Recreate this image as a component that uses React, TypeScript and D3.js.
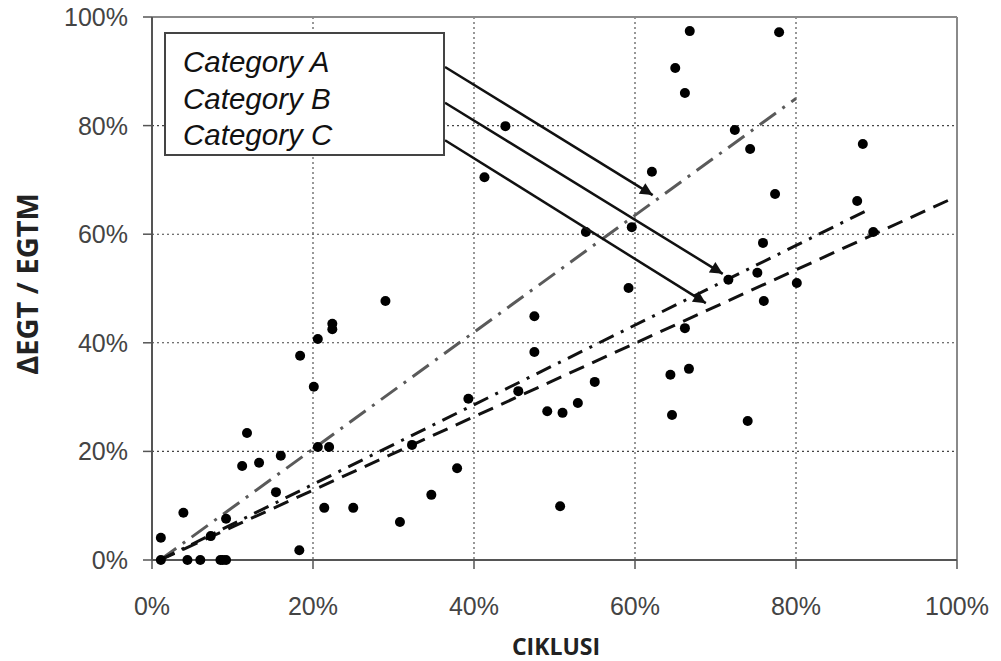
import React from "react";
import * as d3 from "d3";

// ---- data ----
const xTicks = [0, 0.2, 0.4, 0.6, 0.8, 1.0];
const yTicks = [0, 0.2, 0.4, 0.6, 0.8, 1.0];

const pointsX = [
  0.011, 0.011, 0.039, 0.044, 0.06, 0.073, 0.085, 0.088, 0.092, 0.092,
  0.118, 0.112, 0.133, 0.16, 0.154, 0.183, 0.184, 0.201, 0.206, 0.206,
  0.22, 0.214, 0.224, 0.224, 0.25, 0.29, 0.308, 0.323, 0.347, 0.379,
  0.393, 0.413, 0.439, 0.455, 0.475, 0.475, 0.491, 0.51, 0.507, 0.529,
  0.55, 0.539, 0.592, 0.596, 0.621, 0.644, 0.646, 0.65, 0.662, 0.662,
  0.667, 0.668, 0.716, 0.724, 0.74, 0.743, 0.752, 0.759, 0.76, 0.774,
  0.779, 0.801, 0.876, 0.883, 0.896,
];
const pointsY = [
  0.041, 0.0, 0.087, 0.0, 0.0, 0.044, 0.0, 0.0, 0.0, 0.076,
  0.234, 0.173, 0.179, 0.192, 0.125, 0.018, 0.376, 0.319, 0.407, 0.208,
  0.208, 0.096, 0.435, 0.425, 0.096, 0.477, 0.07, 0.212, 0.12, 0.169,
  0.297, 0.705, 0.799, 0.311, 0.449, 0.383, 0.274, 0.271, 0.099, 0.289,
  0.328, 0.604, 0.501, 0.613, 0.715, 0.341, 0.267, 0.906, 0.86, 0.427,
  0.352, 0.974, 0.516, 0.792, 0.256, 0.757, 0.529, 0.584, 0.477, 0.674,
  0.972, 0.51, 0.661, 0.766, 0.604,
];

const categories = ["Category A", "Category B", "Category C"];
// trend lines: start & end (x, y)
const lineStartX = [0.01, 0.01, 0.01];
const lineStartY = [0.0, 0.0, 0.0];
const lineEndX = [0.8, 0.887, 0.996];
const lineEndY = [0.85, 0.643, 0.667];
// arrows from legend to lines (data coords)
const arrowFromX = [0.364, 0.364, 0.364];
const arrowFromY = [0.908, 0.842, 0.773];
const arrowToX = [0.622, 0.709, 0.688];
const arrowToY = [0.672, 0.527, 0.473];

const lineColors = ["#5a5a5a", "#111", "#111"];
const lineDash = ["20 8 3 8", "16 8 3 8", "16 9"];

// ---- layout ----
const W = 1001;
const H = 661;
const L = 152, R = 957, T = 17, B = 560;

export default function App() {
  const x = d3.scaleLinear().domain([0, 1]).range([L, R]);
  const y = d3.scaleLinear().domain([0, 1]).range([B, T]);
  const fmt = d3.format(".0%");
  const line = d3.line<[number, number]>().x((d) => x(d[0])).y((d) => y(d[1]));

  return (
    <svg
      width={W}
      height={H}
      style={{ position: "absolute", left: 0, top: 0, background: "#fff" }}
      fontFamily="'Liberation Sans', Arial, sans-serif"
    >
      <defs>
        <marker id="arr" viewBox="0 0 10 10" refX="10" refY="5" markerWidth="6" markerHeight="5" orient="auto" markerUnits="strokeWidth">
          <path d="M0,0 L10,5 L0,10 z" fill="#111" />
        </marker>
      </defs>
      {/* grid */}
      {xTicks.slice(1, -1).map((t) => (
        <line key={"gx" + t} x1={x(t)} x2={x(t)} y1={T} y2={B} stroke="#444" strokeWidth={1.1} strokeDasharray="2 3" />
      ))}
      {yTicks.slice(1, -1).map((t) => (
        <line key={"gy" + t} x1={L} x2={R} y1={y(t)} y2={y(t)} stroke="#444" strokeWidth={1.1} strokeDasharray="2 3" />
      ))}
      {/* frame */}
      <line x1={L} x2={R} y1={T} y2={T} stroke="#8a8a8a" strokeWidth={2} />
      <line x1={R} x2={R} y1={T} y2={B} stroke="#8a8a8a" strokeWidth={2} />
      <line x1={L} x2={L} y1={T} y2={B} stroke="#555" strokeWidth={2} />
      <line x1={L} x2={R} y1={B} y2={B} stroke="#555" strokeWidth={2} />
      {yTicks.map((t) => (
        <g key={"ty" + t}>
          <line x1={L - 9} x2={L} y1={y(t)} y2={y(t)} stroke="#555" strokeWidth={1.5} />
          <text x={L - 24} y={y(t)} dy="0.36em" textAnchor="end" fontSize={25} fill="#444">
            {fmt(t)}
          </text>
        </g>
      ))}
      {xTicks.map((t) => (
        <g key={"tx" + t}>
          <line x1={x(t)} x2={x(t)} y1={B} y2={B + 9} stroke="#555" strokeWidth={1.5} />
          <text x={x(t)} y={615} textAnchor="middle" fontSize={25} fill="#444">
            {fmt(t)}
          </text>
        </g>
      ))}
      {/* axis titles */}
      <text x={556} y={655} textAnchor="middle" fontSize={23} fontWeight={700} fill="#222" fontFamily="'Open Sans', sans-serif">
        CIKLUSI
      </text>
      <text
        transform={`translate(38,284) rotate(-90)`}
        textAnchor="middle"
        fontSize={29}
        fontWeight={700}
        fill="#222"
        fontFamily="'Open Sans', sans-serif"
      >
        ΔEGT / EGTM
      </text>
      {/* trend lines */}
      {categories.map((c, i) => (
        <path
          key={c}
          d={line([[lineStartX[i], lineStartY[i]], [lineEndX[i], lineEndY[i]]]) || ""}
          stroke={lineColors[i]}
          strokeWidth={3}
          strokeDasharray={lineDash[i]}
          fill="none"
        />
      ))}
      {/* points */}
      {pointsX.map((px, i) => (
        <circle key={"p" + i} cx={x(px)} cy={y(pointsY[i])} r={5} fill="#000" />
      ))}
      {/* arrows */}
      {categories.map((c, i) => (
        <line
          key={"a" + c}
          x1={x(arrowFromX[i])}
          y1={y(arrowFromY[i])}
          x2={x(arrowToX[i])}
          y2={y(arrowToY[i])}
          stroke="#111"
          strokeWidth={2.5}
          markerEnd="url(#arr)"
        />
      ))}
      {/* legend */}
      <rect x={165} y={33} width={279} height={122} fill="#fff" stroke="#444" strokeWidth={2} />
      {categories.map((c, i) => (
        <text key={"l" + c} x={183} y={72 + i * 36.5} fontSize={29.5} fontStyle="italic" fill="#111">
          {c}
        </text>
      ))}
    </svg>
  );
}
